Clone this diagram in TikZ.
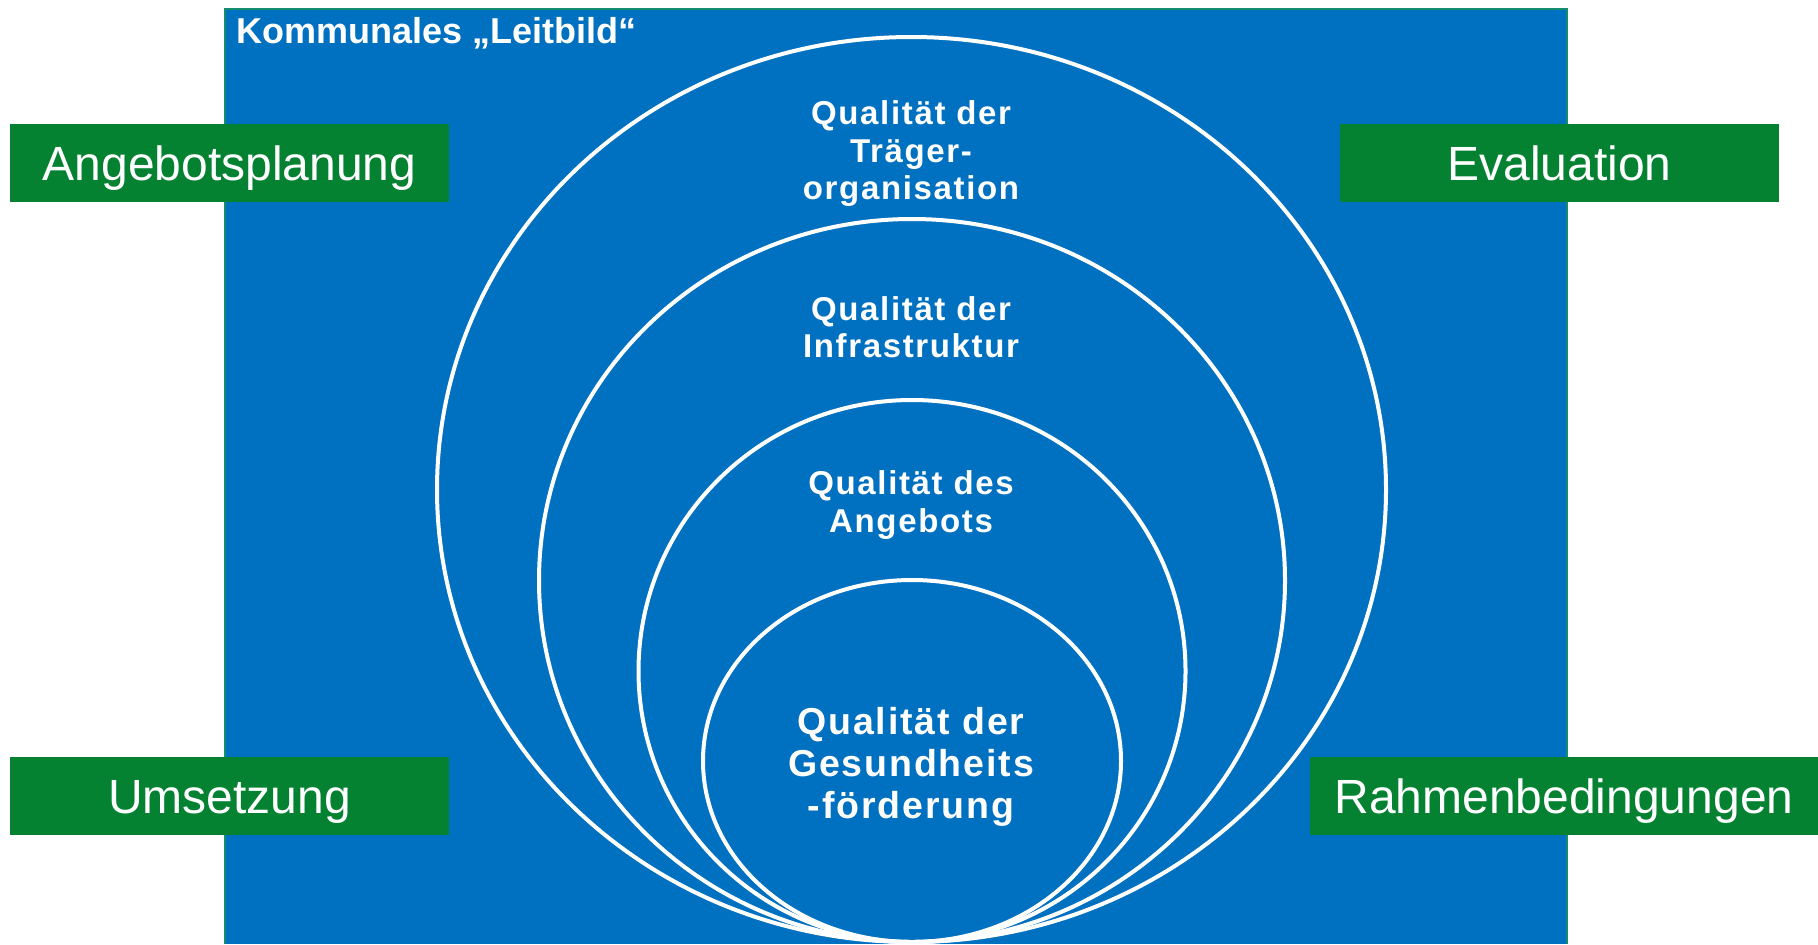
\documentclass[tikz,border=0pt]{standalone}
\usepackage{fontspec}
\setmainfont{Liberation Sans}
\newfontfamily\ringfont[LetterSpace=5]{Liberation Sans}
\usetikzlibrary{shapes.geometric}
\definecolor{lbblue}{RGB}{0, 112, 192}
\definecolor{lbgreen}{RGB}{4, 130, 50}
\definecolor{lbteal}{RGB}{22, 140, 112}

\begin{document}
\begin{tikzpicture}[x=0.5pt, y=-0.5pt,
		% Node styles
		ring/.style={ellipse, draw=white, line width=2pt, inner sep=0pt},
		ringtext/.style={text=white, align=center, font=\ringfont\fontsize{16.5}{18.75}\selectfont\bfseries},
		step_box/.style={fill=lbgreen, text=white, inner sep=0pt, minimum height=39pt,
				text height=17.2pt, text depth=0pt, font=\fontsize{24}{28}\selectfont},
		title/.style={text=white, inner sep=0pt, font=\fontsize{18}{21}\selectfont\bfseries}
	]

	\useasboundingbox (0,0) rectangle (1818,944);

	% Background frame
	\fill[lbblue] (225,9) rectangle (1567,944);
	\draw[lbteal, line width=1pt] (225,944) -- (225,9) -- (1567,9) -- (1567,944);

	% Title
	\node[title, anchor=base west] (leitbild) at (236,43) {Kommunales „Leitbild“};

	% Nested rings, outer to inner
	\node[ring, minimum width=474.5pt, minimum height=452.5pt] (traeger) at (911.5,489.5) {};
	\node[ring, minimum width=373pt, minimum height=361.5pt] (infra) at (912,580.5) {};
	\node[ring, minimum width=273.5pt, minimum height=271pt] (angebot) at (912,671) {};
	\node[ring, minimum width=209pt, minimum height=181pt] (gesund) at (912,761) {};

	% Ring labels
	\node[ringtext] (traeger_text) at (911,154) {Qualität der \\ Träger- \\ organisation};
	\node[ringtext] (infra_text) at (911,327) {Qualität der \\ Infrastruktur};
	\node[ringtext] (angebot_text) at (911,505) {Qualität des \\ Angebots};
	\node[ringtext, font=\ringfont\fontsize{18.75}{21}\selectfont\bfseries] (gesund_text) at (911,766.5)
		{Qualität der \\ Gesundheits \\ -förderung};

	% Process steps
	\node[step_box, minimum width=219.5pt] (planung) at (229.5,163) {Angebotsplanung};
	\node[step_box, minimum width=219.5pt] (evaluation) at (1559.5,163) {Evaluation};
	\node[step_box, minimum width=219.5pt] (umsetzung) at (229.5,796) {Umsetzung};
	\node[step_box, minimum width=254pt] (rahmen) at (1564,796) {Rahmenbedingungen};

\end{tikzpicture}
\end{document}
